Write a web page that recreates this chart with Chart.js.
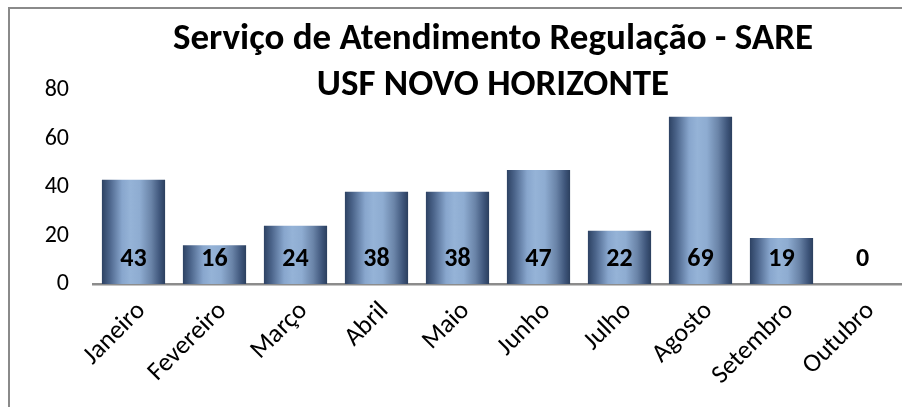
<!DOCTYPE html>
<html lang="pt">
<head>
  <meta charset="UTF-8">
  <title>Serviço de Atendimento Regulação - SARE</title>
  <script src="https://cdn.jsdelivr.net/npm/chart.js"></script>
  <style>
    html, body { margin: 0; padding: 0; background: #fff; overflow: hidden; }
    body { width: 902px; height: 407px; position: relative; }
    /* the chart frame runs off the right and bottom edges, like the screenshot */
    #frame {
      position: absolute; left: 8px; top: 7px;
      width: 968px; height: 420px;
      border-left: 2px solid #8a8a8a; border-top: 2px solid #8a8a8a;
      background: #fff;
    }
    #wrap { position: absolute; left: 0; top: 0; width: 966px; height: 398px; }
  </style>
</head>
<body>
  <div id="frame">
    <div id="wrap"><canvas id="sareChart"></canvas></div>
  </div>

  <script>
    // data
    const months = ['Janeiro', 'Fevereiro', 'Março', 'Abril', 'Maio', 'Junho', 'Julho', 'Agosto', 'Setembro', 'Outubro'];
    const atendimentos = [43, 16, 24, 38, 38, 47, 22, 69, 19, 0];
    const yTicks = [0, 20, 40, 60, 80];
    const titleLines = ['Serviço de Atendimento Regulação - SARE', 'USF NOVO HORIZONTE'];

    const FONT = "Carlito, Lato, 'Open Sans', sans-serif";
    const BAR_PCT = 0.78;

    // horizontal "cylinder" shading, one gradient per bar
    function barGradient(context) {
      const chart = context.chart;
      const xs = chart.scales.x;
      if (!chart.chartArea || !xs || context.dataIndex === undefined) return '#7f9cc3';
      const w = xs.width / months.length * BAR_PCT;
      const left = xs.getPixelForValue(context.dataIndex) - w / 2;
      const g = chart.ctx.createLinearGradient(left, 0, left + w, 0);
      g.addColorStop(0, '#2d4263');
      g.addColorStop(0.12, '#4b648a');
      g.addColorStop(0.32, '#88a6cd');
      g.addColorStop(0.45, '#95b3d7');
      g.addColorStop(0.6, '#8eacd1');
      g.addColorStop(0.78, '#6a84a8');
      g.addColorStop(0.92, '#3e557a');
      g.addColorStop(1, '#2b3f5e');
      return g;
    }

    // value labels sit at a fixed height above the baseline
    const valueLabels = {
      id: 'valueLabels',
      afterDatasetsDraw(chart) {
        const ctx = chart.ctx;
        const base = chart.scales.y.getPixelForValue(0);
        ctx.save();
        ctx.font = 'bold 26px ' + FONT;
        ctx.fillStyle = '#000';
        ctx.textAlign = 'center';
        ctx.textBaseline = 'middle';
        chart.getDatasetMeta(0).data.forEach((bar, i) => {
          ctx.fillText(String(atendimentos[i]), bar.x, base - 25);
        });
        ctx.restore();
      }
    };

    new Chart(document.getElementById('sareChart'), {
      type: 'bar',
      data: {
        labels: months,
        datasets: [{
          data: atendimentos,
          backgroundColor: barGradient,
          borderWidth: 0,
          barPercentage: BAR_PCT,
          categoryPercentage: 1
        }]
      },
      options: {
        responsive: true,
        maintainAspectRatio: false,
        animation: false,
        layout: { padding: 0 },
        plugins: {
          legend: { display: false },
          tooltip: { enabled: false },
          title: {
            display: true,
            text: titleLines,
            color: '#000',
            font: { family: FONT, size: 37, weight: 'bold', lineHeight: 46 / 37 },
            padding: { top: 8, bottom: -19 }
          }
        },
        scales: {
          x: {
            grid: { display: false },
            border: { display: true, color: '#8c8c8c', width: 2.5 },
            ticks: {
              color: '#000',
              font: { family: FONT, size: 26 },
              minRotation: 45, maxRotation: 45,
              padding: 4,
              labelOffset: 8
            },
            afterFit(scale) { scale.height = 123; }
          },
          y: {
            min: 0, max: 80,
            grid: { display: false },
            border: { display: false },
            afterBuildTicks(scale) { scale.ticks = yTicks.map(v => ({ value: v })); },
            ticks: {
              color: '#000',
              font: { family: FONT, size: 24 },
              padding: 16
            },
            afterFit(scale) { scale.width = 83; }
          },
          // empty right-hand axis: keeps the plot short of the frame's right edge
          yRight: {
            position: 'right',
            min: 0, max: 80,
            grid: { display: false },
            border: { display: false },
            ticks: { display: false },
            afterFit(scale) { scale.width = 73; }
          }
        }
      },
      plugins: [valueLabels]
    });
  </script>
</body>
</html>
